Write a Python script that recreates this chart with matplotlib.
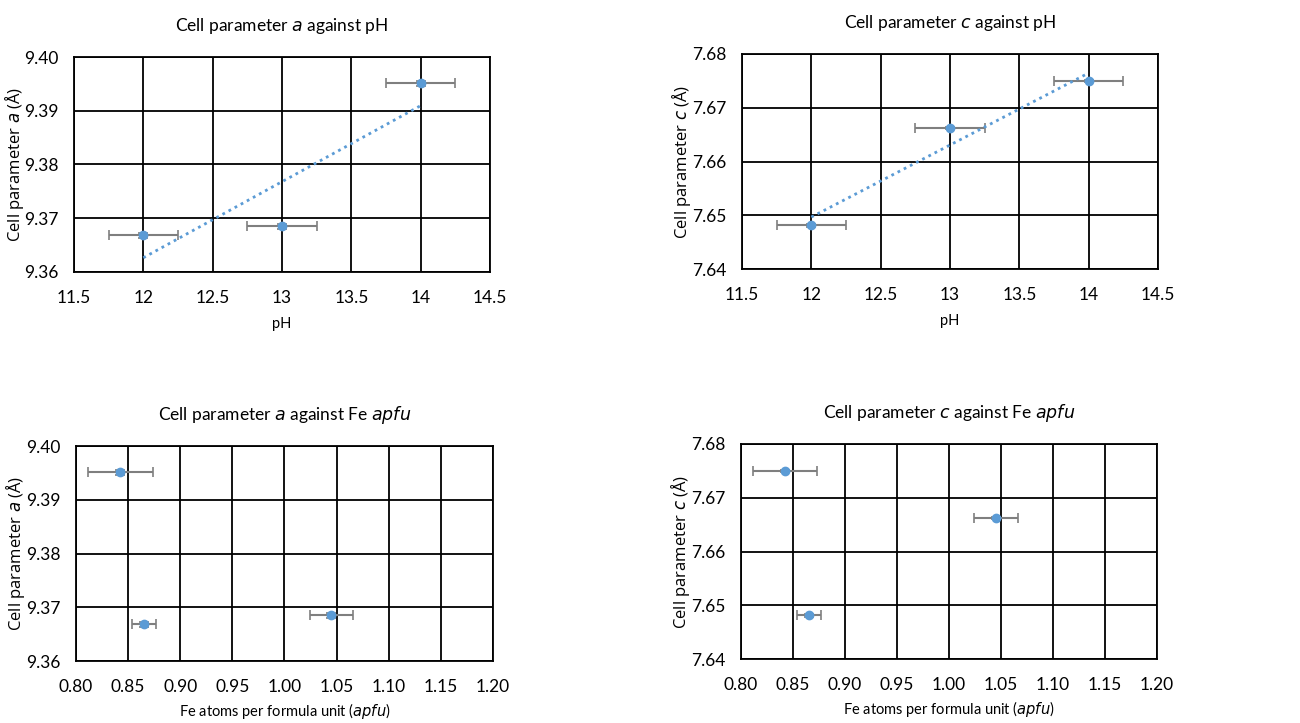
import numpy as np
import matplotlib
matplotlib.use('Agg')
from matplotlib import pyplot as plt

plt.rcParams['font.family'] = ['Lato', 'DejaVu Sans']

# data per sample (pH 12, 13, 14)
ph = [12, 13, 14]
ph_err = [0.25, 0.25, 0.25]
cell_a = [9.3668, 9.3685, 9.3951]
cell_a_err = [0.0005, 0.0005, 0.0005]
cell_c = [7.6481, 7.6662, 7.6749]
cell_c_err = [0.0002, 0.0002, 0.0002]
fe_apfu = [0.8655, 1.0450, 0.8425]
fe_apfu_err = [0.0115, 0.021, 0.031]

a_ticks = [9.36, 9.37, 9.38, 9.39, 9.40]
c_ticks = [7.64, 7.65, 7.66, 7.67, 7.68]
ph_ticks = [11.5, 12, 12.5, 13, 13.5, 14, 14.5]
fe_ticks = [0.80, 0.85, 0.90, 0.95, 1.00, 1.05, 1.10, 1.15, 1.20]

blue = '#5B9BD5'
grey = '#7F7F7F'

fig = plt.figure(figsize=(13, 7.23), dpi=100)
W, H = 1300, 723


def add_ax(left, top, right, bottom):
    return fig.add_axes([left / W, 1 - bottom / H, (right - left) / W, (bottom - top) / H])


def style(ax, xt, yt, xfmt, yfmt):
    ax.set_xticks(xt)
    ax.set_yticks(yt)
    ax.set_xlim(xt[0], xt[-1])
    ax.set_ylim(yt[0], yt[-1])
    ax.set_xticklabels([xfmt % v for v in xt], fontsize=12.5)
    ax.set_yticklabels([yfmt % v for v in yt], fontsize=12.5)
    ax.grid(True, color='black', lw=1.3)
    ax.set_axisbelow(True)
    ax.tick_params(axis='x', length=0, pad=13)
    ax.tick_params(axis='y', length=0, pad=11)
    for s in ax.spines.values():
        s.set_color('black')
        s.set_linewidth(1.3)


def points(ax, x, y, xe, ye):
    ax.errorbar(x, y, xerr=xe, yerr=ye, fmt='o', color=blue, ms=6,
                ecolor=grey, elinewidth=1.5, capsize=3.5, capthick=1.2, zorder=3)


def trend(ax, x, y):
    k, b = np.polyfit(x, y, 1)
    xs = np.array([min(x), max(x)])
    ax.plot(xs, k * xs + b, ls=(0, (1, 1.5)), color=blue, lw=2, zorder=4)


def labels(ax, title, xl, yl, ylx, xpad=8):
    ax.set_title(title, fontsize=12.5, pad=19)
    ax.set_xlabel(xl, fontsize=10.5, labelpad=xpad)
    ax.set_ylabel(yl, fontsize=12, family=['Open Sans', 'DejaVu Sans'])
    w = ax.get_position().width * W
    ax.yaxis.set_label_coords(ylx / w, 0.5)


ax1 = add_ax(74, 57, 490, 272)
style(ax1, ph_ticks, a_ticks, '%g', '%.2f')
points(ax1, ph, cell_a, ph_err, cell_a_err)
trend(ax1, ph, cell_a)
labels(ax1, 'Cell parameter $\\it{a}$ against pH', 'pH',
       'Cell parameter $\\it{a}$ (Å)', -48)

ax2 = add_ax(742, 54, 1158, 269)
style(ax2, ph_ticks, c_ticks, '%g', '%.2f')
points(ax2, ph, cell_c, ph_err, cell_c_err)
trend(ax2, ph, cell_c)
labels(ax2, 'Cell parameter $\\it{c}$ against pH', 'pH',
       'Cell parameter $\\it{c}$ (Å)', -49)

ax3 = add_ax(76, 446, 493, 661)
style(ax3, fe_ticks, a_ticks, '%.2f', '%.2f')
points(ax3, fe_apfu, cell_a, fe_apfu_err, cell_a_err)
labels(ax3, 'Cell parameter $\\it{a}$ against Fe $\\it{apfu}$',
       'Fe atoms per formula unit ($\\it{apfu}$)', 'Cell parameter $\\it{a}$ (Å)', -49, 4)

ax4 = add_ax(741, 444, 1157, 659)
style(ax4, fe_ticks, c_ticks, '%.2f', '%.2f')
points(ax4, fe_apfu, cell_c, fe_apfu_err, cell_c_err)
labels(ax4, 'Cell parameter $\\it{c}$ against Fe $\\it{apfu}$',
       'Fe atoms per formula unit ($\\it{apfu}$)', 'Cell parameter $\\it{c}$ (Å)', -49, 4)

fig.savefig('out.png', dpi=100)
